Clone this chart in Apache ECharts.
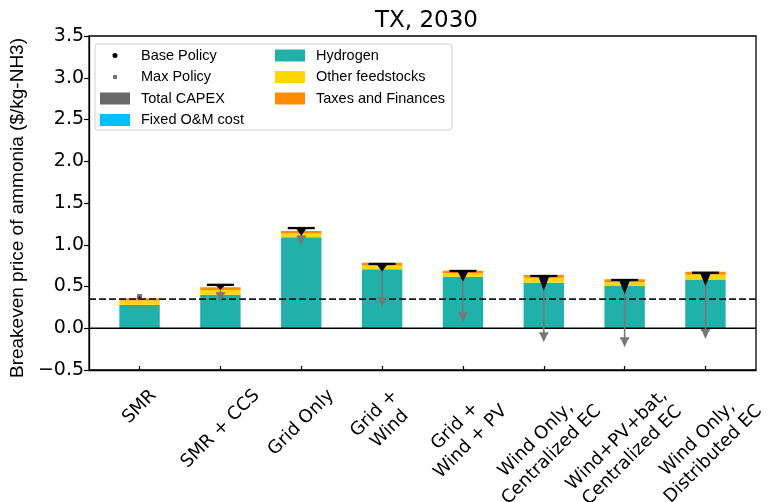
<!DOCTYPE html>
<html><head><meta charset="utf-8">
<script src="https://cdn.jsdelivr.net/npm/echarts@6/dist/echarts.min.js"></script>
<style>html,body{margin:0;padding:0;background:#fff}#c{width:770px;height:502px}</style>
</head><body><div id="c"></div>
<script>
// ---------------- data ----------------
const chartTitle = 'TX, 2030';
const yAxisName = 'Breakeven price of ammonia ($/kg-NH3)';
const categories = ['SMR', 'SMR + CCS', 'Grid Only', 'Grid +\nWind', 'Grid +\nWind + PV',
  'Wind Only,\nCentralized EC', 'Wind+PV+bat,\nCentralized EC', 'Wind Only,\nDistributed EC'];
const totalCapex      = [0, 0, 0, 0, 0, 0, 0, 0];
const fixedOM         = [0, 0, 0, 0, 0, 0, 0, 0];
const hydrogen        = [0.28, 0.40, 1.09, 0.706, 0.617, 0.545, 0.505, 0.585];
const otherFeedstocks = [0.052, 0.058, 0.045, 0.046, 0.043, 0.059, 0.047, 0.056];
const taxesFinances   = [0.028, 0.032, 0.03, 0.032, 0.029, 0.034, 0.034, 0.036];
const capTop          = [0.36, 0.52, 1.20, 0.77, 0.686, 0.626, 0.578, 0.665];
const basePolicy      = [0.36, 0.46, 1.108, 0.677, 0.557, 0.45, 0.406, 0.506];
const maxPolicy       = [0.38, 0.42, 1.10, 0.36, 0.18, -0.06, -0.12, -0.02];
const referenceLevel  = 0.35;
const yMin = -0.5, yMax = 3.5, yStep = 0.5;

// ---------------- helpers ----------------
const X_MIN = -0.625, X_MAX = categories.length - 1 + 0.625;
const BAR_HALF = 0.25;
const colors = {capex:'#696969', om:'#00bfff', h2:'#20b2aa', other:'#ffd700', tax:'#ff8c00', base:'#000000', max:'#777777'};

const layers = [
  {name:'Total CAPEX', values: totalCapex, color: colors.capex},
  {name:'Fixed O&M cost', values: fixedOM, color: colors.om},
  {name:'Hydrogen', values: hydrogen, color: colors.h2},
  {name:'Other feedstocks', values: otherFeedstocks, color: colors.other},
  {name:'Taxes and Finances', values: taxesFinances, color: colors.tax}
];
const running = categories.map(() => 0);
const barSeries = layers.map(layer => {
  const data = categories.map((_, i) => {
    const y0 = running[i];
    running[i] += layer.values[i];
    return [i, y0, running[i]];
  });
  return {
    type:'custom', name: layer.name, itemStyle:{color: layer.color}, z: 2,
    data,
    renderItem: function (params, api) {
      const x = api.value(0), y0 = api.value(1), y1 = api.value(2);
      if (y1 === y0) return null;
      const p0 = api.coord([x - BAR_HALF, y1]);
      const p1 = api.coord([x + BAR_HALF, y0]);
      return {type:'rect', shape:{x:p0[0], y:p0[1], width:p1[0]-p0[0], height:p1[1]-p0[1]},
        style:{fill: layer.color}};
    }
  };
});

const refSeries = {
  type:'custom', name:'ref', silent:true, z: 5,
  data: [[0, 0], [1, referenceLevel]],
  renderItem: function (params, api) {
    const kind = api.value(0), y = api.value(1);
    const a = api.coord([X_MIN, y]), b = api.coord([X_MAX, y]);
    return {type:'line', shape:{x1:a[0], y1:a[1], x2:b[0], y2:b[1]},
      style: kind === 0 ? {stroke:'#000', lineWidth:1.5} : {stroke:'#1a1a1a', lineWidth:1.8, lineDash:[7,3]}};
  }
};

const maxSeries = {
  type:'custom', name:'Max Policy', itemStyle:{color: colors.max}, z: 10,
  data: categories.map((_, i) => [i, basePolicy[i], maxPolicy[i]]),
  renderItem: function (params, api) {
    const i = api.value(0), base = api.value(1), mx = api.value(2);
    const pB = api.coord([i, base]), pM = api.coord([i, mx]);
    if (mx >= base) {
      return {type:'rect', shape:{x:pM[0]-2.5, y:pM[1]-2.5, width:5, height:5}, style:{fill: colors.max}};
    }
    return {type:'group', children:[
      {type:'line', shape:{x1:pB[0], y1:pB[1], x2:pM[0], y2:pM[1]}, style:{stroke: colors.max, lineWidth:1.6}},
      {type:'line', shape:{x1:pM[0]-4.5, y1:pM[1], x2:pM[0]+4.5, y2:pM[1]}, style:{stroke: colors.max, lineWidth:2}},
      {type:'polygon', shape:{points:[[pM[0]-4, pM[1]], [pM[0]+4, pM[1]], [pM[0], pM[1]+9]]}, style:{fill: colors.max}}
    ]};
  }
};

const baseSeries = {
  type:'custom', name:'Base Policy', itemStyle:{color: colors.base}, z: 11,
  data: categories.map((_, i) => [i, capTop[i], basePolicy[i]]),
  renderItem: function (params, api) {
    const i = api.value(0), top = api.value(1), base = api.value(2);
    const pT = api.coord([i, top]), pB = api.coord([i, base]);
    if (pB[1] - pT[1] < 1) {
      return {type:'circle', shape:{cx:pB[0], cy:pB[1], r:2}, style:{fill:'#333'}};
    }
    return {type:'group', children:[
      {type:'polygon', shape:{points:[[pT[0]-5.5, pT[1]], [pT[0]+5.5, pT[1]], [pB[0], pB[1]]]}, style:{fill:'#000'}},
      {type:'line', shape:{x1:pT[0]-13.5, y1:pT[1], x2:pT[0]+13.5, y2:pT[1]}, style:{stroke:'#000', lineWidth:2.3}}
    ]};
  }
};

const measureCtx = document.createElement('canvas').getContext('2d');
const LABEL_SIZE = 18, LABEL_LH = 22, LABEL_PAD = 15, LABEL_FAMILY = 'DejaVu Sans';
const labelSeries = {
  type:'custom', name:'xlabels', silent:true, clip:false, z: 3,
  data: categories.map((_, i) => [i, yMin]),
  renderItem: function (params, api) {
    const i = api.value(0);
    const text = categories[i];
    const lines = text.split('\n');
    measureCtx.font = LABEL_SIZE + 'px "' + LABEL_FAMILY + '"';
    const w = Math.max.apply(null, lines.map(l => measureCtx.measureText(l).width));
    const h = lines.length * LABEL_LH;
    const p = api.coord([i, yMin]);
    const half = Math.SQRT1_2 * (w + h) / 2;
    return {type:'text', x:p[0], y:p[1] + LABEL_PAD + half, rotation: Math.PI / 4,
      style:{text, fontSize: LABEL_SIZE, fontFamily: LABEL_FAMILY, fill:'#000',
        align:'center', verticalAlign:'middle', lineHeight: LABEL_LH}};
  }
};

const ICON_RECT = 'path://M0,0M36,14M0,1L30,1L30,13L0,13Z';
const ICON_DOT = 'path://M0,0M36,14M12.5,7A2.5,2.5,0,1,0,17.5,7A2.5,2.5,0,1,0,12.5,7Z';
const ICON_SQ = 'path://M0,0M36,14M13,5L17,5L17,9L13,9Z';
const legendCommon = {orient:'vertical', top:48, itemWidth:36, itemHeight:14, itemGap:6.5, padding:0,
  selectedMode:false, textStyle:{fontFamily:'Liberation Sans', fontSize:14.5, color:'#000'}};

const chart = echarts.init(document.getElementById('c'), null, {renderer:'canvas'});
chart.setOption({
  animation:false,
  backgroundColor:'#fff',
  title:{text: chartTitle, left: 421.5, textAlign:'center', top: 5,
    textStyle:{fontFamily:'DejaVu Sans', fontSize:23, fontWeight:'normal', color:'#000'}},
  graphic:[{type:'rect', z:1, shape:{x:95, y:44, width:357, height:86, r:3},
    style:{fill:'rgba(255,255,255,0.8)', stroke:'#d0d0d0', lineWidth:1}}],
  legend:[
    Object.assign({}, legendCommon, {left:100, data:[
      {name:'Base Policy', icon: ICON_DOT}, {name:'Max Policy', icon: ICON_SQ},
      {name:'Total CAPEX', icon: ICON_RECT}, {name:'Fixed O&M cost', icon: ICON_RECT}]}),
    Object.assign({}, legendCommon, {left:275, data:[
      {name:'Hydrogen', icon: ICON_RECT}, {name:'Other feedstocks', icon: ICON_RECT},
      {name:'Taxes and Finances', icon: ICON_RECT}]})
  ],
  grid:{left:87, right:14, top:36, bottom:132, show:true, borderColor:'#000', borderWidth:1.3, backgroundColor:'transparent'},
  xAxis:{type:'value', min:X_MIN, max:X_MAX,
    axisLine:{show:true, onZero:false, lineStyle:{color:'#000', width:1.3}},
    axisTick:{show:true, inside:true, length:4, customValues: categories.map((_, i) => i), lineStyle:{color:'#000', width:1.2}},
    axisLabel:{show:false}, splitLine:{show:false}},
  yAxis:{type:'value', min:yMin, max:yMax, interval:yStep,
    axisLine:{show:true, onZero:false, lineStyle:{color:'#000', width:1.3}},
    axisTick:{show:true, length:5, lineStyle:{color:'#000', width:1.2}},
    axisLabel:{color:'#000', fontFamily:'DejaVu Sans', fontSize:19, margin:5,
      formatter: v => (v < 0 ? '\u2212' : '') + Math.abs(v).toFixed(1)},
    splitLine:{show:false},
    name: yAxisName, nameLocation:'middle', nameGap:60,
    nameTextStyle:{fontFamily:'Liberation Sans', fontSize:19, color:'#000', padding:[0, 10, 0, 0]}},
  series: barSeries.concat([refSeries, maxSeries, baseSeries, labelSeries])
});
</script>
</body></html>
